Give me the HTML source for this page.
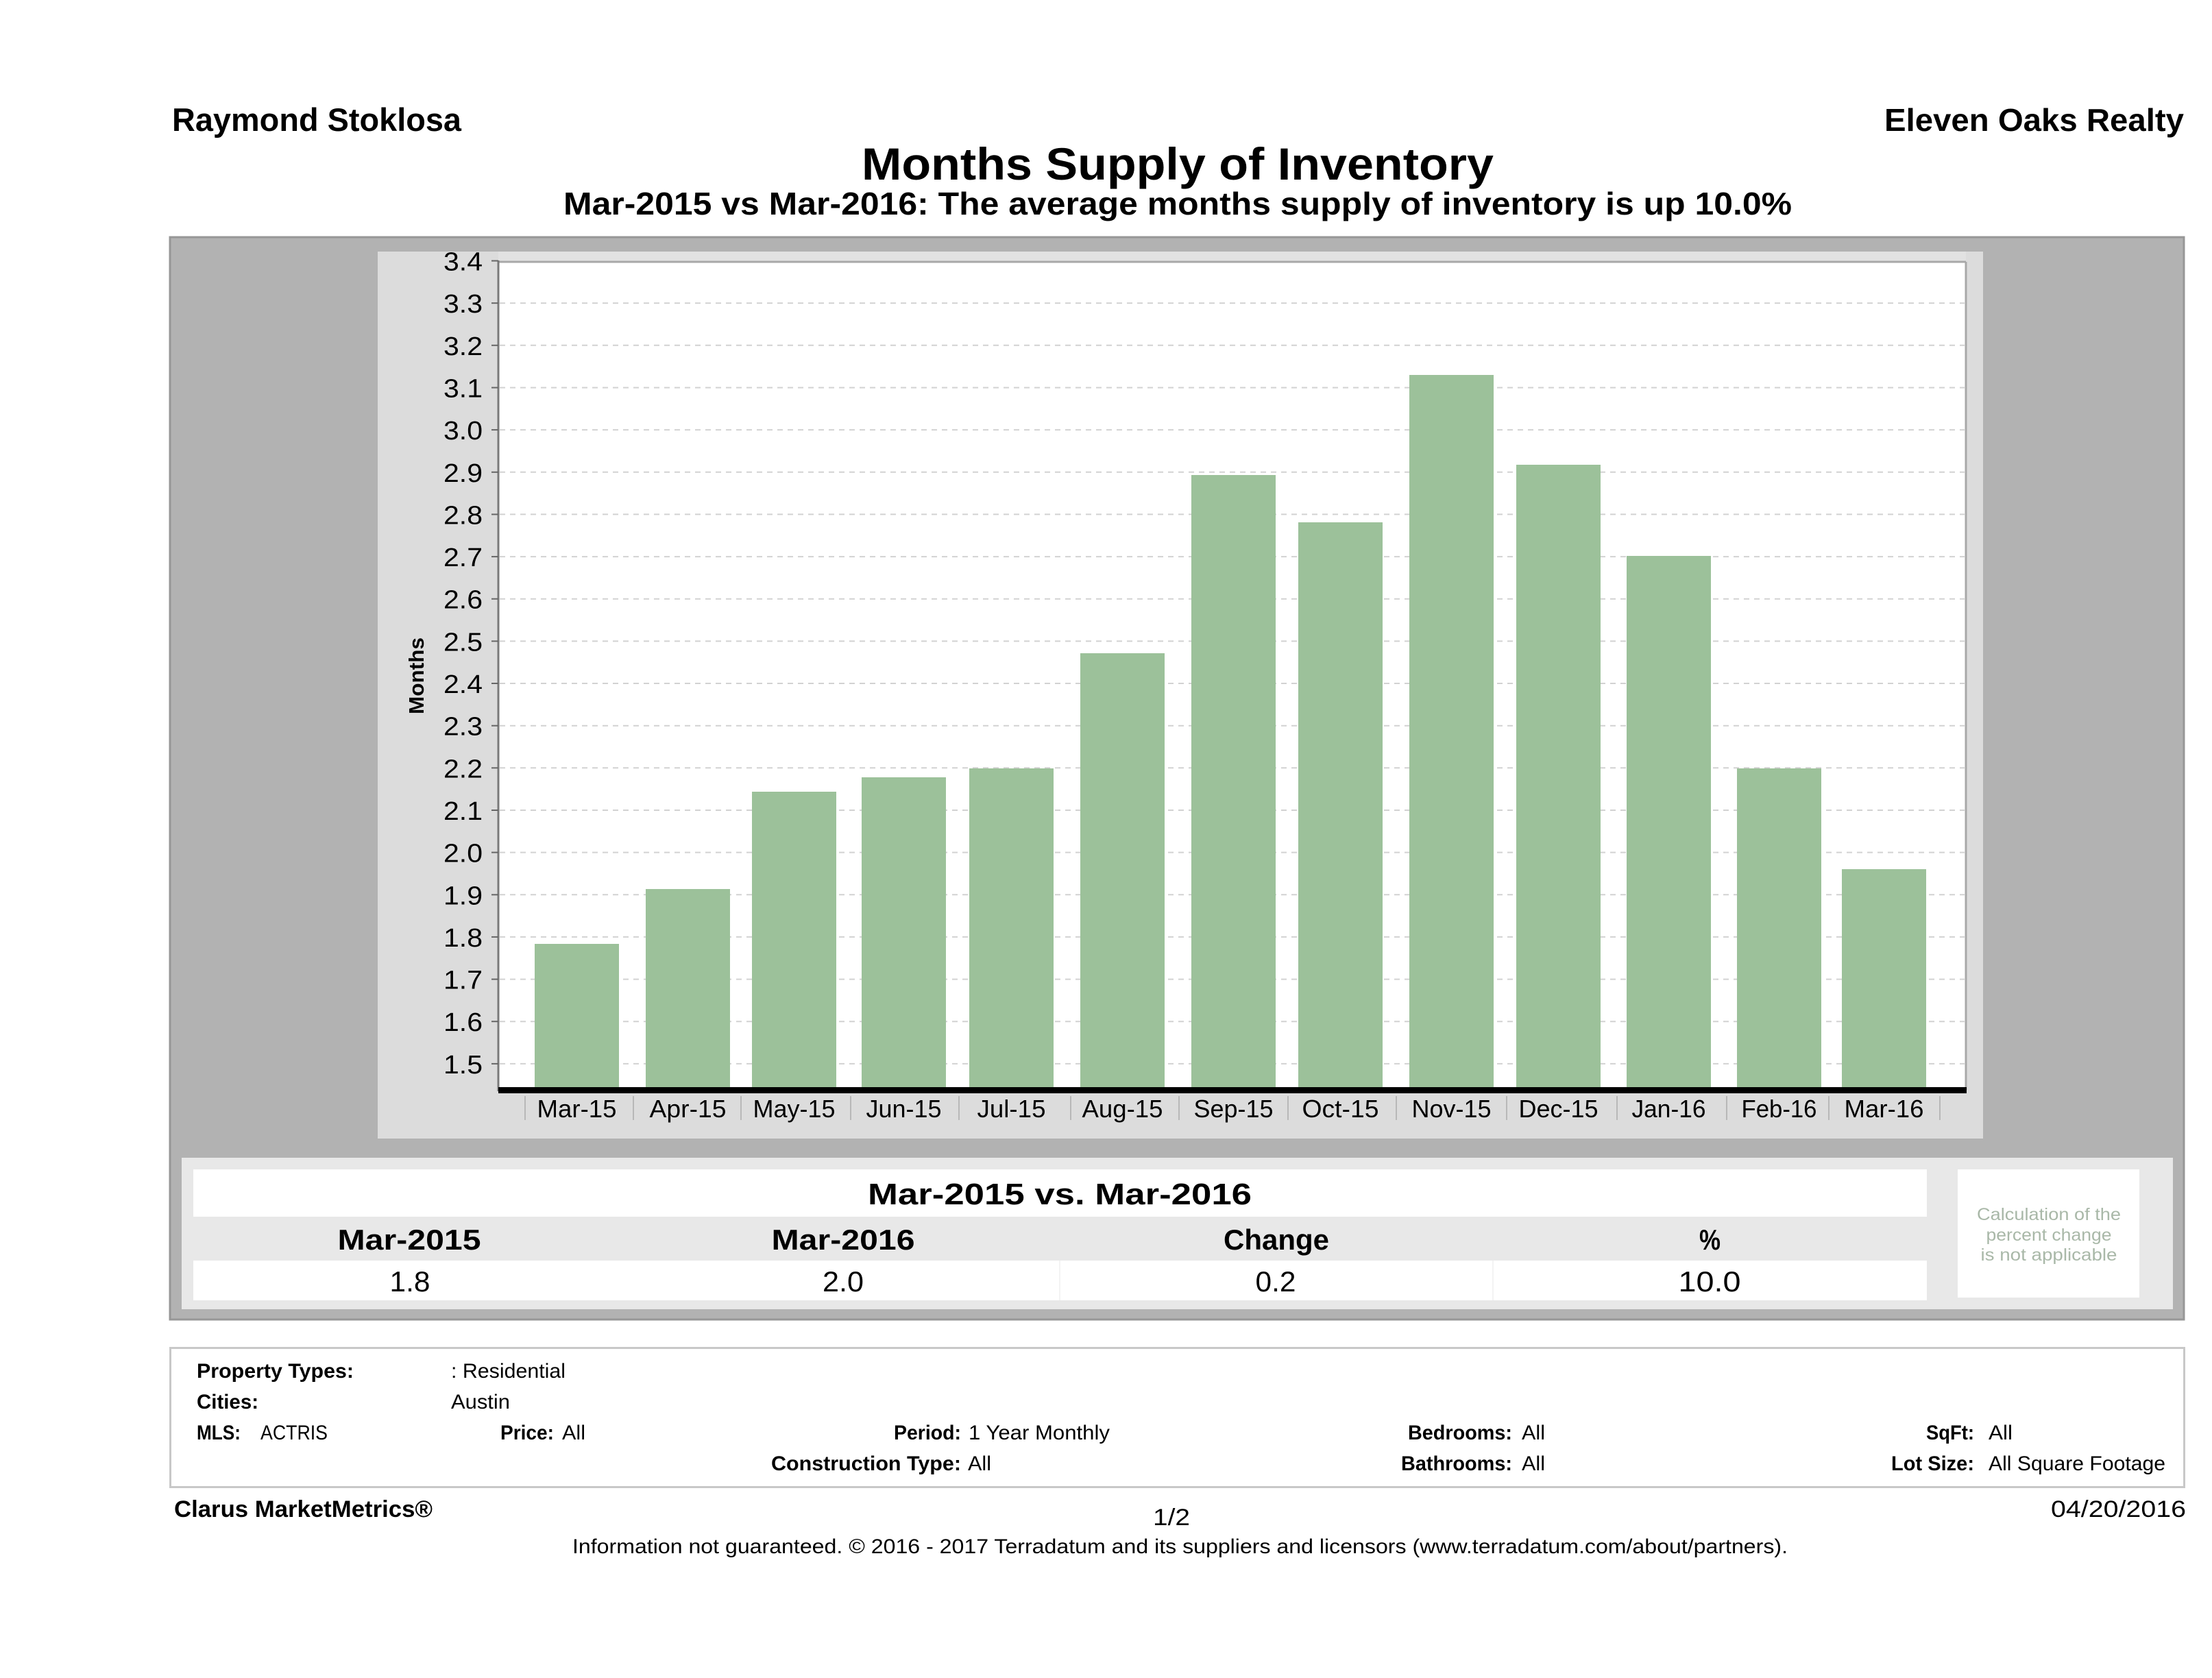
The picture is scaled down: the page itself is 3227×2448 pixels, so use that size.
<!DOCTYPE html>
<html>
<head>
<meta charset="utf-8">
<style>
  html,body{margin:0;padding:0;background:#fff;}
  svg{display:block;}
  text{font-family:"Liberation Sans","DejaVu Sans",sans-serif;fill:#000;}
  .b{font-weight:bold;}
</style>
</head>
<body>
<svg width="3227" height="2448" viewBox="0 0 3227 2448" xmlns="http://www.w3.org/2000/svg">
  <rect x="0" y="0" width="3227" height="2448" fill="#ffffff"/>

  <!-- Header -->
  <text class="b" x="251" y="191" font-size="47" textLength="422" lengthAdjust="spacingAndGlyphs">Raymond Stoklosa</text>
  <text class="b" x="2749" y="191" font-size="46" textLength="437" lengthAdjust="spacingAndGlyphs">Eleven Oaks Realty</text>
  <text class="b" x="1257" y="262" font-size="66" textLength="922" lengthAdjust="spacingAndGlyphs">Months Supply of Inventory</text>
  <text class="b" x="822" y="313" font-size="46" textLength="1792" lengthAdjust="spacingAndGlyphs">Mar-2015 vs Mar-2016: The average months supply of inventory is up 10.0%</text>

  <!-- Outer gray panel -->
  <rect x="248" y="346" width="2938" height="1579" fill="#b2b2b2" stroke="#979797" stroke-width="3"/>

  <!-- Inner chart panel -->
  <rect x="551" y="367" width="2342" height="1294" fill="#dcdcdc"/>
  <rect x="727" y="367" width="166" height="15" fill="#e2e2e2"/>
  <rect x="893" y="367" width="1975" height="15" fill="#e2e2e2"/>

  <!-- Plot area -->
  <rect x="727" y="382" width="2141" height="1208" fill="#ffffff"/>

  <!-- Grid lines -->
  <g stroke="#d2d2d2" stroke-width="2" stroke-dasharray="8,7">
    <line x1="729" x2="2866" y1="442.2" y2="442.2"/>
    <line x1="729" x2="2866" y1="503.8" y2="503.8"/>
    <line x1="729" x2="2866" y1="565.5" y2="565.5"/>
    <line x1="729" x2="2866" y1="627.1" y2="627.1"/>
    <line x1="729" x2="2866" y1="688.8" y2="688.8"/>
    <line x1="729" x2="2866" y1="750.4" y2="750.4"/>
    <line x1="729" x2="2866" y1="812.1" y2="812.1"/>
    <line x1="729" x2="2866" y1="873.7" y2="873.7"/>
    <line x1="729" x2="2866" y1="935.4" y2="935.4"/>
    <line x1="729" x2="2866" y1="997.0" y2="997.0"/>
    <line x1="729" x2="2866" y1="1058.7" y2="1058.7"/>
    <line x1="729" x2="2866" y1="1120.3" y2="1120.3"/>
    <line x1="729" x2="2866" y1="1182.0" y2="1182.0"/>
    <line x1="729" x2="2866" y1="1243.6" y2="1243.6"/>
    <line x1="729" x2="2866" y1="1305.3" y2="1305.3"/>
    <line x1="729" x2="2866" y1="1366.9" y2="1366.9"/>
    <line x1="729" x2="2866" y1="1428.6" y2="1428.6"/>
    <line x1="729" x2="2866" y1="1490.2" y2="1490.2"/>
    <line x1="729" x2="2866" y1="1551.9" y2="1551.9"/>
  </g>

  <!-- Bars -->
  <g fill="#9cc19a">
    <rect x="780" y="1377" width="123" height="209"/>
    <rect x="942" y="1297" width="123" height="289"/>
    <rect x="1097" y="1155" width="123" height="431"/>
    <rect x="1257" y="1134" width="123" height="452"/>
    <rect x="1414" y="1121" width="123" height="465"/>
    <rect x="1576" y="953" width="123" height="633"/>
    <rect x="1738" y="693" width="123" height="893"/>
    <rect x="1894" y="762" width="123" height="824"/>
    <rect x="2056" y="547" width="123" height="1039"/>
    <rect x="2212" y="678" width="123" height="908"/>
    <rect x="2373" y="811" width="123" height="775"/>
    <rect x="2534" y="1121" width="123" height="465"/>
    <rect x="2687" y="1268" width="123" height="318"/>
  </g>

  <!-- Plot borders -->
  <line x1="727" y1="382" x2="2868" y2="382" stroke="#a8a8a8" stroke-width="3"/>
  <line x1="2868" y1="382" x2="2868" y2="1590" stroke="#a8a8a8" stroke-width="3"/>
  <line x1="727" y1="380" x2="727" y2="1592" stroke="#7a7a7a" stroke-width="3"/>
  <rect x="727" y="1586" width="2142" height="9" fill="#000"/>

  <!-- Y ticks -->
  <g stroke="#666" stroke-width="2">
    <line x1="717" x2="727" y1="380.5" y2="380.5"/>
    <line x1="717" x2="727" y1="442.2" y2="442.2"/>
    <line x1="717" x2="727" y1="503.8" y2="503.8"/>
    <line x1="717" x2="727" y1="565.5" y2="565.5"/>
    <line x1="717" x2="727" y1="627.1" y2="627.1"/>
    <line x1="717" x2="727" y1="688.8" y2="688.8"/>
    <line x1="717" x2="727" y1="750.4" y2="750.4"/>
    <line x1="717" x2="727" y1="812.1" y2="812.1"/>
    <line x1="717" x2="727" y1="873.7" y2="873.7"/>
    <line x1="717" x2="727" y1="935.4" y2="935.4"/>
    <line x1="717" x2="727" y1="997.0" y2="997.0"/>
    <line x1="717" x2="727" y1="1058.7" y2="1058.7"/>
    <line x1="717" x2="727" y1="1120.3" y2="1120.3"/>
    <line x1="717" x2="727" y1="1182.0" y2="1182.0"/>
    <line x1="717" x2="727" y1="1243.6" y2="1243.6"/>
    <line x1="717" x2="727" y1="1305.3" y2="1305.3"/>
    <line x1="717" x2="727" y1="1366.9" y2="1366.9"/>
    <line x1="717" x2="727" y1="1428.6" y2="1428.6"/>
    <line x1="717" x2="727" y1="1490.2" y2="1490.2"/>
    <line x1="717" x2="727" y1="1551.9" y2="1551.9"/>
  </g>

  <!-- Y labels -->
  <g font-size="38" text-anchor="end">
    <text x="704" y="394.5" textLength="57" lengthAdjust="spacingAndGlyphs">3.4</text>
    <text x="704" y="456.2" textLength="57" lengthAdjust="spacingAndGlyphs">3.3</text>
    <text x="704" y="517.8" textLength="57" lengthAdjust="spacingAndGlyphs">3.2</text>
    <text x="704" y="579.5" textLength="57" lengthAdjust="spacingAndGlyphs">3.1</text>
    <text x="704" y="641.1" textLength="57" lengthAdjust="spacingAndGlyphs">3.0</text>
    <text x="704" y="702.8" textLength="57" lengthAdjust="spacingAndGlyphs">2.9</text>
    <text x="704" y="764.4" textLength="57" lengthAdjust="spacingAndGlyphs">2.8</text>
    <text x="704" y="826.1" textLength="57" lengthAdjust="spacingAndGlyphs">2.7</text>
    <text x="704" y="887.7" textLength="57" lengthAdjust="spacingAndGlyphs">2.6</text>
    <text x="704" y="949.4" textLength="57" lengthAdjust="spacingAndGlyphs">2.5</text>
    <text x="704" y="1011.0" textLength="57" lengthAdjust="spacingAndGlyphs">2.4</text>
    <text x="704" y="1072.7" textLength="57" lengthAdjust="spacingAndGlyphs">2.3</text>
    <text x="704" y="1134.3" textLength="57" lengthAdjust="spacingAndGlyphs">2.2</text>
    <text x="704" y="1196.0" textLength="57" lengthAdjust="spacingAndGlyphs">2.1</text>
    <text x="704" y="1257.6" textLength="57" lengthAdjust="spacingAndGlyphs">2.0</text>
    <text x="704" y="1319.3" textLength="57" lengthAdjust="spacingAndGlyphs">1.9</text>
    <text x="704" y="1380.9" textLength="57" lengthAdjust="spacingAndGlyphs">1.8</text>
    <text x="704" y="1442.6" textLength="57" lengthAdjust="spacingAndGlyphs">1.7</text>
    <text x="704" y="1504.2" textLength="57" lengthAdjust="spacingAndGlyphs">1.6</text>
    <text x="704" y="1565.9" textLength="57" lengthAdjust="spacingAndGlyphs">1.5</text>
  </g>

  <!-- Y axis title -->
  <text class="b" x="0" y="0" font-size="31" text-anchor="middle" transform="translate(618,986) rotate(-90)" textLength="112" lengthAdjust="spacingAndGlyphs">Months</text>

  <!-- X category separators -->
  <g stroke="#b8b8b8" stroke-width="2">
    <line x1="766" x2="766" y1="1599" y2="1634"/>
    <line x1="924" x2="924" y1="1599" y2="1634"/>
    <line x1="1081" x2="1081" y1="1599" y2="1634"/>
    <line x1="1241" x2="1241" y1="1599" y2="1634"/>
    <line x1="1399" x2="1399" y1="1599" y2="1634"/>
    <line x1="1562" x2="1562" y1="1599" y2="1634"/>
    <line x1="1720" x2="1720" y1="1599" y2="1634"/>
    <line x1="1879" x2="1879" y1="1599" y2="1634"/>
    <line x1="2037" x2="2037" y1="1599" y2="1634"/>
    <line x1="2198" x2="2198" y1="1599" y2="1634"/>
    <line x1="2359" x2="2359" y1="1599" y2="1634"/>
    <line x1="2519" x2="2519" y1="1599" y2="1634"/>
    <line x1="2668" x2="2668" y1="1599" y2="1634"/>
    <line x1="2830" x2="2830" y1="1599" y2="1634"/>
  </g>

  <!-- X labels -->
  <g font-size="36" text-anchor="middle">
    <text x="841.5" y="1630" textLength="116" lengthAdjust="spacingAndGlyphs">Mar-15</text>
    <text x="1003.5" y="1630" textLength="112" lengthAdjust="spacingAndGlyphs">Apr-15</text>
    <text x="1158.5" y="1630" textLength="120" lengthAdjust="spacingAndGlyphs">May-15</text>
    <text x="1318.5" y="1630" textLength="110" lengthAdjust="spacingAndGlyphs">Jun-15</text>
    <text x="1475.5" y="1630" textLength="100" lengthAdjust="spacingAndGlyphs">Jul-15</text>
    <text x="1637.5" y="1630" textLength="118" lengthAdjust="spacingAndGlyphs">Aug-15</text>
    <text x="1799.5" y="1630" textLength="116" lengthAdjust="spacingAndGlyphs">Sep-15</text>
    <text x="1955.5" y="1630" textLength="112" lengthAdjust="spacingAndGlyphs">Oct-15</text>
    <text x="2117.5" y="1630" textLength="116" lengthAdjust="spacingAndGlyphs">Nov-15</text>
    <text x="2273.5" y="1630" textLength="116" lengthAdjust="spacingAndGlyphs">Dec-15</text>
    <text x="2434.5" y="1630" textLength="108" lengthAdjust="spacingAndGlyphs">Jan-16</text>
    <text x="2595.5" y="1630" textLength="110" lengthAdjust="spacingAndGlyphs">Feb-16</text>
    <text x="2748.5" y="1630" textLength="116" lengthAdjust="spacingAndGlyphs">Mar-16</text>
  </g>

  <!-- Comparison table -->
  <rect x="265" y="1689" width="2905" height="221" fill="#e8e8e8"/>
  <rect x="282" y="1706" width="2529" height="69" fill="#ffffff"/>
  <rect x="282" y="1839" width="2529" height="58" fill="#ffffff"/>
  <line x1="1546" y1="1839" x2="1546" y2="1897" stroke="#f3f3f3" stroke-width="2"/>
  <line x1="2178" y1="1839" x2="2178" y2="1897" stroke="#f3f3f3" stroke-width="2"/>
  <rect x="2856" y="1706" width="265" height="187" fill="#ffffff"/>

  <text class="b" x="1546" y="1757" font-size="44" text-anchor="middle" textLength="560" lengthAdjust="spacingAndGlyphs">Mar-2015 vs. Mar-2016</text>

  <g font-size="42" class="b" text-anchor="middle">
    <text class="b" x="597" y="1823" textLength="209" lengthAdjust="spacingAndGlyphs">Mar-2015</text>
    <text class="b" x="1230" y="1823" textLength="209" lengthAdjust="spacingAndGlyphs">Mar-2016</text>
    <text class="b" x="1862" y="1823" textLength="154" lengthAdjust="spacingAndGlyphs">Change</text>
    <text class="b" x="2494.5" y="1823" textLength="31" lengthAdjust="spacingAndGlyphs">%</text>
  </g>
  <g font-size="42" text-anchor="middle">
    <text x="598" y="1884" textLength="59" lengthAdjust="spacingAndGlyphs">1.8</text>
    <text x="1230" y="1884" textLength="60" lengthAdjust="spacingAndGlyphs">2.0</text>
    <text x="1861" y="1884" textLength="59" lengthAdjust="spacingAndGlyphs">0.2</text>
    <text x="2494" y="1884" textLength="91" lengthAdjust="spacingAndGlyphs">10.0</text>
  </g>

  <g font-size="25" text-anchor="middle" style="fill:#a9b8a8">
    <text x="2989" y="1780" textLength="210" lengthAdjust="spacingAndGlyphs" style="fill:#a9b8a8">Calculation of the</text>
    <text x="2989" y="1810" textLength="183" lengthAdjust="spacingAndGlyphs" style="fill:#a9b8a8">percent change</text>
    <text x="2989" y="1839" textLength="199" lengthAdjust="spacingAndGlyphs" style="fill:#a9b8a8">is not applicable</text>
  </g>

  <!-- Criteria box -->
  <rect x="248.5" y="1966.5" width="2938" height="203" fill="#ffffff" stroke="#c8c8c8" stroke-width="3"/>
  <g font-size="30">
    <text class="b" x="287" y="2010" textLength="229" lengthAdjust="spacingAndGlyphs">Property Types:</text>
    <text x="658" y="2010" textLength="167" lengthAdjust="spacingAndGlyphs">: Residential</text>
    <text class="b" x="287" y="2055" textLength="90" lengthAdjust="spacingAndGlyphs">Cities:</text>
    <text x="658" y="2055" textLength="86" lengthAdjust="spacingAndGlyphs">Austin</text>
    <text class="b" x="287" y="2100" textLength="64" lengthAdjust="spacingAndGlyphs">MLS:</text>
    <text x="380" y="2100" textLength="98" lengthAdjust="spacingAndGlyphs">ACTRIS</text>
    <text class="b" x="730" y="2100" textLength="78" lengthAdjust="spacingAndGlyphs">Price:</text>
    <text x="820" y="2100" textLength="34" lengthAdjust="spacingAndGlyphs">All</text>
    <text class="b" x="1304" y="2100" textLength="98" lengthAdjust="spacingAndGlyphs">Period:</text>
    <text x="1413" y="2100" textLength="206" lengthAdjust="spacingAndGlyphs">1 Year Monthly</text>
    <text class="b" x="1125" y="2145" textLength="277" lengthAdjust="spacingAndGlyphs">Construction Type:</text>
    <text x="1412" y="2145" textLength="34" lengthAdjust="spacingAndGlyphs">All</text>
    <text class="b" x="2054" y="2100" textLength="152" lengthAdjust="spacingAndGlyphs">Bedrooms:</text>
    <text x="2220" y="2100" textLength="34" lengthAdjust="spacingAndGlyphs">All</text>
    <text class="b" x="2044" y="2145" textLength="162" lengthAdjust="spacingAndGlyphs">Bathrooms:</text>
    <text x="2220" y="2145" textLength="34" lengthAdjust="spacingAndGlyphs">All</text>
    <text class="b" x="2810" y="2100" textLength="70" lengthAdjust="spacingAndGlyphs">SqFt:</text>
    <text x="2901" y="2100" textLength="35" lengthAdjust="spacingAndGlyphs">All</text>
    <text class="b" x="2759" y="2145" textLength="121" lengthAdjust="spacingAndGlyphs">Lot Size:</text>
    <text x="2901" y="2145" textLength="258" lengthAdjust="spacingAndGlyphs">All Square Footage</text>
  </g>

  <!-- Footer -->
  <text class="b" x="254" y="2213" font-size="34" textLength="377" lengthAdjust="spacingAndGlyphs">Clarus MarketMetrics®</text>
  <text x="1682" y="2225" font-size="34" textLength="54" lengthAdjust="spacingAndGlyphs">1/2</text>
  <text x="2992" y="2213" font-size="34" textLength="197" lengthAdjust="spacingAndGlyphs">04/20/2016</text>
  <text x="835" y="2266" font-size="30" textLength="1773" lengthAdjust="spacingAndGlyphs">Information not guaranteed. © 2016 - 2017 Terradatum and its suppliers and licensors (www.terradatum.com/about/partners).</text>
</svg>
</body>
</html>
